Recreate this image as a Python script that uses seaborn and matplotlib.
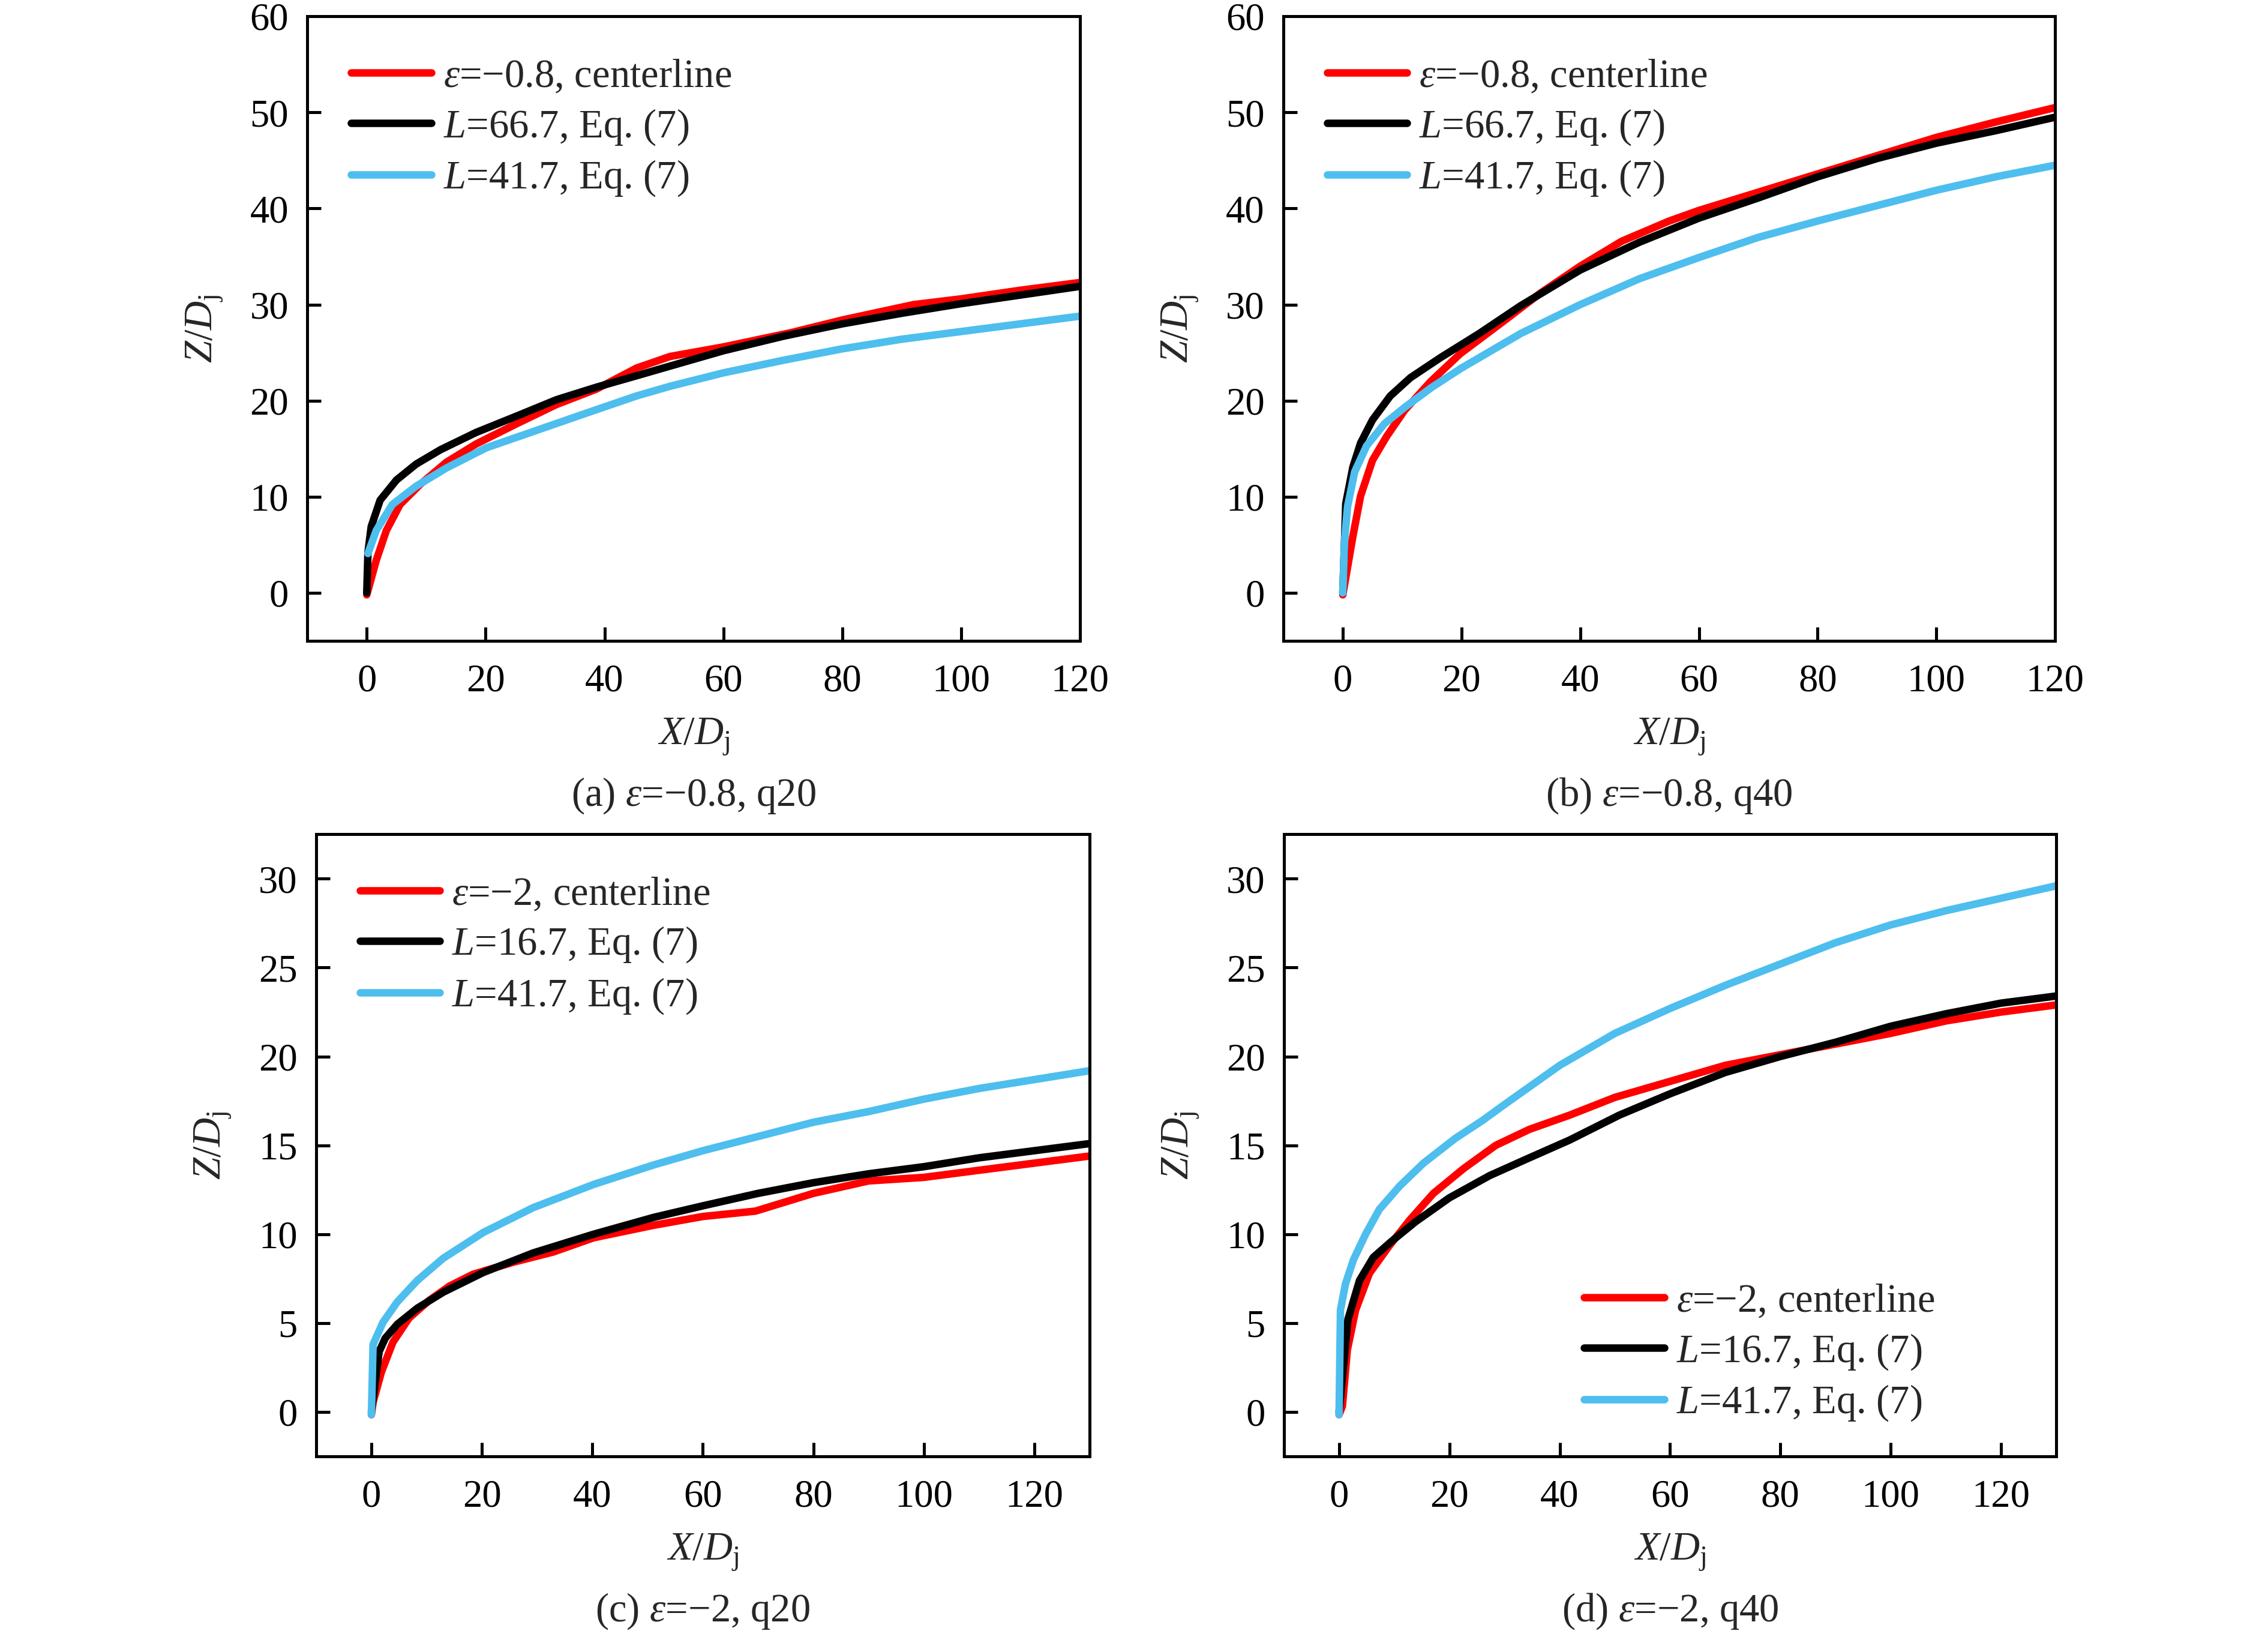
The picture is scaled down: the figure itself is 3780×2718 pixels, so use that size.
import matplotlib
matplotlib.use("Agg")
import matplotlib.pyplot as plt
import seaborn as sns

# ---- data (X/Dj, Z/Dj) ----
# (a) eps=-0.8, q20
a_red_x = [0, 1.6, 3.3, 5.6, 9.0, 13.4, 18.4, 25.2, 31.9, 38.6, 45.4, 51, 60, 71.5, 80, 92, 100, 110, 120]
a_red_z = [-0.2, 3.4, 6.5, 9.2, 11.3, 13.6, 15.5, 17.6, 19.6, 21.2, 23.4, 24.6, 25.6, 27.1, 28.4, 30.0, 30.6, 31.5, 32.3]
a_blk_x = [0, 0.2, 0.75, 2.25, 5, 8.3, 12.4, 18.4, 25.2, 31.9, 38.6, 45.4, 51, 60, 70, 80, 90, 100, 110, 120]
a_blk_z = [0, 4.2, 6.9, 9.65, 11.75, 13.4, 14.9, 16.7, 18.4, 20.1, 21.4, 22.6, 23.6, 25.2, 26.7, 28.0, 29.1, 30.1, 31.0, 31.9]
a_blu_x = [0.2, 1.6, 4.3, 8.3, 13.4, 20.1, 28.5, 36.9, 45.4, 51, 60, 70, 80, 90, 100, 110, 120]
a_blu_z = [4.1, 6.5, 9.2, 11.1, 13.0, 15.1, 16.9, 18.7, 20.5, 21.5, 22.9, 24.2, 25.4, 26.4, 27.2, 28.0, 28.8]

# (b) eps=-0.8, q40
b_red_x = [0, 1.7, 3.0, 5, 7.4, 10.4, 14.8, 19.8, 26.5, 33.3, 40, 47, 55, 60, 70, 80, 90, 100, 110, 120]
b_red_z = [-0.2, 5.9, 10.1, 13.8, 16.3, 19.0, 22.0, 24.9, 28.0, 31.2, 34.0, 36.6, 38.7, 39.8, 41.7, 43.6, 45.5, 47.4, 49.0, 50.5]
b_blk_x = [0, 0.5, 1.7, 3.0, 5, 8, 11.4, 16.5, 23, 30, 40, 50, 60, 70, 80, 90, 100, 110, 120]
b_blk_z = [0, 9.3, 13.1, 15.6, 18.0, 20.5, 22.4, 24.5, 27.0, 29.9, 33.6, 36.5, 39.0, 41.1, 43.3, 45.2, 46.8, 48.1, 49.5]
b_blu_x = [0, 0.3, 0.8, 2.0, 4.0, 7.0, 10.4, 15, 20, 30, 40, 50, 60, 70, 80, 90, 100, 110, 120]
b_blu_z = [0, 5.5, 9.0, 12.6, 15.3, 17.6, 19.3, 21.4, 23.4, 27.0, 30.0, 32.7, 34.9, 37.0, 38.7, 40.3, 41.9, 43.3, 44.5]

# (c) eps=-2, q20
c_red_x = [0, 0.3, 1.8, 3.9, 6.8, 10.5, 14.1, 18.4, 25.7, 32.9, 40.2, 51, 60, 69.5, 80, 90, 100, 110, 120, 130]
c_red_z = [-0.15, 0.55, 2.24, 3.93, 5.28, 6.29, 7.08, 7.75, 8.43, 9.0, 9.8, 10.5, 11.0, 11.3, 12.3, 13.0, 13.2, 13.6, 14.0, 14.4]
c_blk_x = [0, 1.4, 2.5, 4.7, 8.3, 13.0, 20.25, 29.3, 40.2, 51.1, 60, 70, 80, 90, 100, 110, 120, 130]
c_blk_z = [0, 3.4, 4.15, 4.94, 5.84, 6.74, 7.85, 8.95, 10.0, 10.95, 11.6, 12.3, 12.9, 13.4, 13.8, 14.3, 14.7, 15.1]
c_blu_x = [0, 0.3, 2.1, 4.7, 8.3, 13.0, 20.25, 29.3, 40.2, 51.1, 60, 70, 80, 90, 100, 110, 120, 130]
c_blu_z = [-0.15, 3.8, 5.05, 6.2, 7.4, 8.65, 10.1, 11.5, 12.8, 13.9, 14.7, 15.5, 16.3, 16.9, 17.6, 18.2, 18.7, 19.2]

# (d) eps=-2, q40
d_red_x = [0, 0.6, 1.5, 3.0, 5.5, 9.1, 12.8, 17.1, 22.6, 28.4, 34.5, 41.8, 50, 60, 70, 80, 90, 100, 110, 120, 130]
d_red_z = [-0.15, 0.33, 3.5, 5.74, 7.8, 9.35, 10.8, 12.3, 13.7, 15.0, 15.9, 16.7, 17.7, 18.6, 19.5, 20.1, 20.7, 21.3, 22.0, 22.5, 22.9]
d_blk_x = [0, 1.6, 3.7, 6.2, 9.5, 13.85, 20, 27.3, 34.5, 41.8, 50.8, 60, 70, 80, 90, 100, 110, 120, 130]
d_blk_z = [0, 5.2, 7.4, 8.7, 9.6, 10.7, 12.05, 13.3, 14.3, 15.3, 16.7, 17.9, 19.1, 20.0, 20.8, 21.7, 22.4, 23.0, 23.4]
d_blu_x = [0, 0.25, 1.15, 2.6, 4.8, 7.3, 10.95, 15.3, 21.1, 26, 30, 40, 50, 60, 70, 80, 90, 100, 110, 120, 130]
d_blu_z = [-0.15, 5.74, 7.2, 8.56, 10.0, 11.4, 12.7, 14.0, 15.4, 16.4, 17.3, 19.5, 21.3, 22.7, 24.0, 25.2, 26.4, 27.4, 28.2, 28.9, 29.6]

labels_08 = ["$\\varepsilon$=\u22120.8, centerline", "$L$=66.7, Eq. (7)", "$L$=41.7, Eq. (7)"]
labels_2 = ["$\\varepsilon$=\u22122, centerline", "$L$=16.7, Eq. (7)", "$L$=41.7, Eq. (7)"]
captions = ["(a) $\\varepsilon$=\u22120.8, q20", "(b) $\\varepsilon$=\u22120.8, q40",
            "(c) $\\varepsilon$=\u22122, q20", "(d) $\\varepsilon$=\u22122, q40"]

COLORS = ["#ff0000", "#000000", "#4dbeee"]
FS = 16
FS_TICK = 15.5
LW = 3.0

sns.set_theme(style="ticks")
plt.rcParams.update({
    "font.family": ["Liberation Serif", "DejaVu Serif"],
    "mathtext.fontset": "custom",
    "mathtext.rm": "Liberation Serif",
    "mathtext.it": "Liberation Serif:italic",
    "font.size": FS,
    "axes.linewidth": 1.2,
    "axes.edgecolor": "black",
    "xtick.direction": "in",
    "ytick.direction": "in",
})

fig = plt.figure(figsize=(12.6, 9.06), dpi=300)
positions = [
    [0.1355, 0.607, 0.3407, 0.383],
    [0.5659, 0.607, 0.3402, 0.383],
    [0.1394, 0.107, 0.3410, 0.3815],
    [0.5661, 0.107, 0.3405, 0.3815],
]
panels = [
    ((a_red_x, a_red_z), (a_blk_x, a_blk_z), (a_blu_x, a_blu_z)),
    ((b_red_x, b_red_z), (b_blk_x, b_blk_z), (b_blu_x, b_blu_z)),
    ((c_red_x, c_red_z), (c_blk_x, c_blk_z), (c_blu_x, c_blu_z)),
    ((d_red_x, d_red_z), (d_blk_x, d_blk_z), (d_blu_x, d_blu_z)),
]

for i, (pos, series) in enumerate(zip(positions, panels)):
    ax = fig.add_axes(pos)
    labels = labels_08 if i < 2 else labels_2
    for (xs, zs), col, lab in zip(series, COLORS, labels):
        sns.lineplot(x=xs, y=zs, color=col, lw=LW, label=lab, ax=ax,
                     solid_capstyle="round", solid_joinstyle="round", sort=False)
    ax.set_xticks(range(0, 121, 20))
    if i < 2:
        ax.set_xlim(-10, 120)
        ax.set_ylim(-5, 60)
        ax.set_yticks(range(0, 61, 10))
    else:
        ax.set_xlim(-10, 130)
        ax.set_ylim(-2.5, 32.5)
        ax.set_yticks(range(0, 31, 5))
    for s in ax.spines.values():
        s.set_visible(True)
        s.set_linewidth(1.2)
        s.set_color("black")
    ax.tick_params(axis="x", length=5.5, width=1.2, pad=9, labelsize=FS_TICK, colors="black")
    ax.tick_params(axis="y", length=5.5, width=1.2, pad=7.5, labelsize=FS_TICK, colors="black")
    ax.set_xlabel("$X/D_{\\mathrm{j}}$", fontsize=FS, labelpad=7)
    ax.set_ylabel("$Z/D_{\\mathrm{j}}$", fontsize=FS, labelpad=10)
    ax.annotate(captions[i], xy=(0.5, 0), xycoords="axes fraction",
                xytext=(0, -62), textcoords="offset points",
                ha="center", va="center", fontsize=FS)

    handles, labs = ax.get_legend_handles_labels()
    if i == 3:
        kw = dict(loc="lower left", bbox_to_anchor=(0.368, 0.028))
    else:
        kw = dict(loc="upper left", bbox_to_anchor=(0.036, 0.958))
    leg = ax.legend(handles, labs, frameon=False, borderaxespad=0, borderpad=0.4,
                    handlelength=2.0, handletextpad=0.3, labelspacing=0.3,
                    fontsize=FS, **kw)
    for h in leg.get_lines():
        h.set_linewidth(LW)
        h.set_solid_capstyle("round")

fig.savefig("out.png", dpi=300, facecolor="white")
